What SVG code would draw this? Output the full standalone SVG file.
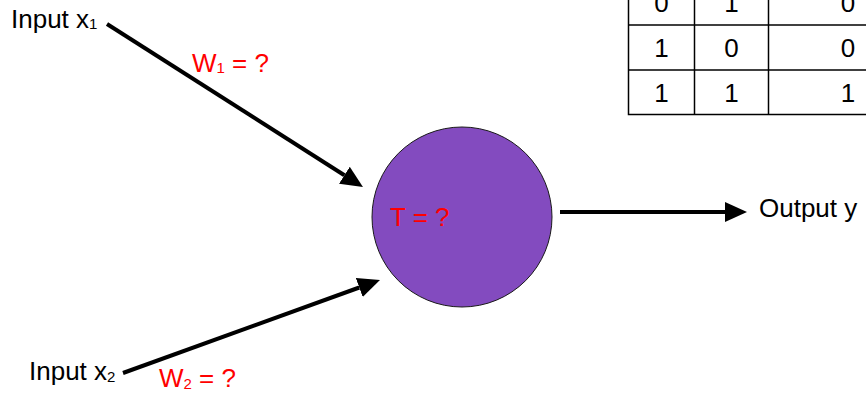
<svg xmlns="http://www.w3.org/2000/svg" width="866" height="393" viewBox="0 0 866 393">
  <style>
    .lbl { font-family: "Liberation Sans", Arial, sans-serif; font-size: 26px; fill: #000; }
    .red { font-family: "Liberation Sans", Arial, sans-serif; font-size: 26px; fill: #ff0000; }
    .cell { font-family: "Liberation Sans", Arial, sans-serif; font-size: 26px; fill: #000; text-anchor: middle; }
    .sub { font-size: 15px; }
    .conn { stroke: #000; stroke-width: 4; fill: none; marker-end: url(#arrow); }
    .grid { stroke: #000; stroke-width: 1.5; fill: none; }
  </style>
  <defs>
    <marker id="arrow" markerUnits="userSpaceOnUse" markerWidth="22" markerHeight="20" viewBox="0 0 22 20" refX="0" refY="10" orient="auto">
      <path d="M0,0 L22,10 L0,20 z" fill="#000"/>
    </marker>
  </defs>

  <g id="truth-table">
    <rect class="grid" x="628.5" y="-20" width="300" height="134.5"/>
    <line class="grid" x1="694.5" y1="-20" x2="694.5" y2="114.5"/>
    <line class="grid" x1="768.5" y1="-20" x2="768.5" y2="114.5"/>
    <line class="grid" x1="628.5" y1="25" x2="928" y2="25"/>
    <line class="grid" x1="628.5" y1="70" x2="928" y2="70"/>
    <text class="cell" x="661.5" y="12">0</text>
    <text class="cell" x="731.5" y="12">1</text>
    <text class="cell" x="848" y="12">0</text>
    <text class="cell" x="661.5" y="57">1</text>
    <text class="cell" x="731.5" y="57">0</text>
    <text class="cell" x="848" y="57">0</text>
    <text class="cell" x="661.5" y="102">1</text>
    <text class="cell" x="731.5" y="102">1</text>
    <text class="cell" x="848" y="102">1</text>
  </g>

  <g id="connectors">
    <line class="conn" x1="107" y1="24" x2="344.4" y2="175.2"/>
    <line class="conn" x1="123" y1="373" x2="359.3" y2="287.5"/>
    <line class="conn" x1="560" y1="212" x2="725" y2="212"/>
  </g>

  <g id="input-x1">
    <text class="lbl" x="11" y="28">Input x<tspan class="sub" dy="1">1</tspan></text>
  </g>
  <g id="weight-w1">
    <text class="red" x="192" y="72">W<tspan class="sub" dy="1">1</tspan><tspan dy="-1"> = ?</tspan></text>
  </g>

  <g id="input-x2">
    <text class="lbl" x="29" y="380">Input x<tspan class="sub" dy="2">2</tspan></text>
  </g>
  <g id="weight-w2">
    <text class="red" x="159" y="387">W<tspan class="sub" dy="2">2</tspan><tspan dy="-2"> = ?</tspan></text>
  </g>

  <g id="neuron">
    <circle cx="462" cy="217" r="90" fill="#834bbf" stroke="#1a1a1a" stroke-width="1"/>
    <text class="red" x="390" y="226">T = ?</text>
  </g>

  <g id="output-y">
    <text class="lbl" x="759" y="217">Output y</text>
  </g>
</svg>
